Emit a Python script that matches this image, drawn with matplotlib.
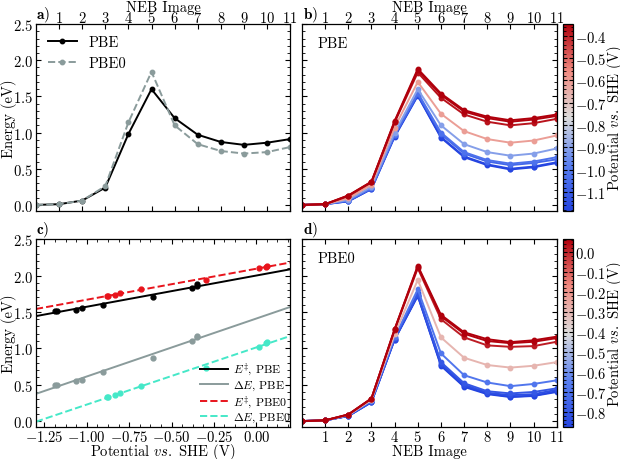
import numpy as np
import matplotlib
matplotlib.use('Agg')
import matplotlib.pyplot as plt
from matplotlib.ticker import MultipleLocator, AutoMinorLocator
from matplotlib.colors import Normalize, LinearSegmentedColormap
from matplotlib.cm import ScalarMappable

images = np.arange(12)

# panel a: reference profiles
pbe_ref = [0.00, 0.01, 0.06, 0.24, 0.98, 1.60, 1.20, 0.97, 0.87, 0.83, 0.86, 0.91]
pbe0_ref = [0.00, 0.01, 0.06, 0.26, 1.14, 1.84, 1.10, 0.84, 0.745, 0.71, 0.73, 0.80]

# panel b: PBE profiles at each potential (V vs SHE)
pbe_potentials = [-1.185, -1.178, -1.064, -1.028, -0.905, -0.608, -0.379, -0.352, -0.348]
pbe_profiles = [
    [0, 0.01, 0.05, 0.22, 0.94, 1.51, 0.93, 0.66, 0.55, 0.49, 0.52, 0.58],
    [0, 0.01, 0.05, 0.22, 0.95, 1.515, 0.94, 0.67, 0.56, 0.50, 0.53, 0.59],
    [0, 0.01, 0.06, 0.23, 0.96, 1.53, 0.98, 0.71, 0.60, 0.55, 0.58, 0.63],
    [0, 0.01, 0.06, 0.23, 0.97, 1.55, 1.00, 0.73, 0.62, 0.57, 0.60, 0.66],
    [0, 0.01, 0.07, 0.25, 1.00, 1.60, 1.10, 0.84, 0.73, 0.68, 0.71, 0.78],
    [0, 0.01, 0.09, 0.28, 1.07, 1.70, 1.26, 1.02, 0.91, 0.86, 0.89, 0.96],
    [0, 0.01, 0.12, 0.31, 1.14, 1.83, 1.48, 1.25, 1.15, 1.10, 1.13, 1.19],
    [0, 0.01, 0.13, 0.32, 1.15, 1.86, 1.52, 1.29, 1.20, 1.15, 1.18, 1.23],
    [0, 0.01, 0.13, 0.32, 1.16, 1.88, 1.54, 1.31, 1.22, 1.17, 1.20, 1.25],
]

# panel d: PBE0 profiles
pbe0_potentials = [-0.878, -0.874, -0.836, -0.804, -0.681, -0.294, 0.017, 0.060, 0.065]
pbe0_profiles = [
    [0, 0.01, 0.07, 0.26, 1.12, 1.72, 0.76, 0.47, 0.37, 0.33, 0.345, 0.40],
    [0, 0.01, 0.07, 0.26, 1.12, 1.725, 0.77, 0.48, 0.38, 0.335, 0.35, 0.41],
    [0, 0.01, 0.07, 0.26, 1.13, 1.735, 0.79, 0.50, 0.39, 0.355, 0.37, 0.43],
    [0, 0.01, 0.07, 0.27, 1.14, 1.755, 0.81, 0.52, 0.41, 0.38, 0.40, 0.45],
    [0, 0.01, 0.08, 0.28, 1.15, 1.81, 0.93, 0.63, 0.53, 0.48, 0.51, 0.56],
    [0, 0.01, 0.08, 0.29, 1.19, 1.94, 1.15, 0.87, 0.77, 0.735, 0.76, 0.81],
    [0, 0.01, 0.09, 0.31, 1.25, 2.10, 1.40, 1.15, 1.04, 1.02, 1.03, 1.09],
    [0, 0.01, 0.09, 0.31, 1.26, 2.12, 1.44, 1.20, 1.10, 1.07, 1.09, 1.14],
    [0, 0.01, 0.09, 0.31, 1.26, 2.135, 1.46, 1.22, 1.125, 1.085, 1.11, 1.16],
]

plt.rcParams['font.family'] = 'cmr10'
plt.rcParams['mathtext.fontset'] = 'cm'
plt.rcParams['axes.formatter.use_mathtext'] = True
plt.rcParams['font.size'] = 10.5
plt.rcParams['axes.linewidth'] = 0.9

cmap = LinearSegmentedColormap.from_list(
    'potential', ['#2444e0', '#5a80f0', '#dcdcdc', '#f08a80', '#b0000c'])
grey = '#8a9b9b'


def style(ax):
    ax.tick_params(which='both', direction='in', top=True, right=True, pad=2)
    ax.tick_params(which='major', length=3.5, width=0.8)
    ax.tick_params(which='minor', length=2, width=0.6)
    ax.yaxis.set_major_locator(MultipleLocator(0.5))
    ax.yaxis.set_minor_locator(AutoMinorLocator(5))
    ax.set_ylim(-0.085, 2.5)


def neb_axis(ax):
    ax.set_xlim(0, 11)
    ax.set_xticks(range(1, 12))


def top_label(ax):
    ax.tick_params(axis='x', labeltop=True, labelbottom=False, pad=-1)
    ax.set_xlabel('NEB Image', va='center')
    ax.xaxis.set_label_coords(0.5, 1.093)


def y_label(ax):
    ax.set_ylabel('Energy (eV)', va='center')
    ax.yaxis.set_label_coords(-0.108, 0.5)


def bottom_label(ax, text):
    ax.tick_params(axis='x', pad=1.5)
    ax.set_xlabel(text, va='center')
    ax.xaxis.set_label_coords(0.5, -0.127)


def colorbar(cax, potentials):
    norm = Normalize(min(potentials), max(potentials))
    cb = fig.colorbar(ScalarMappable(norm=norm, cmap=cmap), cax=cax)
    cb.ax.yaxis.set_major_locator(MultipleLocator(0.1))
    cb.ax.yaxis.set_minor_locator(AutoMinorLocator(5))
    cb.ax.tick_params(which='both', direction='in', left=True, right=True, pad=1.5)
    cb.ax.tick_params(which='major', length=3, width=0.8)
    cb.ax.tick_params(which='minor', length=1.8, width=0.6)
    cb.outline.set_linewidth(0.9)
    cb.set_label(r'Potential $vs.$ SHE (V)', va='center')
    cb.ax.yaxis.set_label_coords(5.25, 0.5)
    return norm


fig = plt.figure(figsize=(6.2, 4.6), dpi=100)
ax_a = fig.add_axes([0.058, 0.539, 0.410, 0.4065])
ax_b = fig.add_axes([0.487, 0.539, 0.411, 0.4065])
cax_b = fig.add_axes([0.908, 0.539, 0.016, 0.4065])
ax_c = fig.add_axes([0.058, 0.069, 0.410, 0.409])
ax_d = fig.add_axes([0.487, 0.069, 0.411, 0.409])
cax_d = fig.add_axes([0.908, 0.069, 0.016, 0.409])

# a)
ax_a.plot(images, pbe_ref, '-o', color='black', lw=1.4, ms=3.2, label='PBE')
ax_a.plot(images, pbe0_ref, '--o', color=grey, lw=1.4, ms=3.2, label='PBE0')
style(ax_a)
neb_axis(ax_a)
top_label(ax_a)
y_label(ax_a)
ax_a.legend(loc='upper left', frameon=False, handlelength=2.0, borderaxespad=0.4)

# b)
norm_b = colorbar(cax_b, pbe_potentials)
for pot, prof in zip(pbe_potentials, pbe_profiles):
    ax_b.plot(images, prof, '-o', color=cmap(norm_b(pot)), lw=1.4, ms=3.2)
style(ax_b)
neb_axis(ax_b)
top_label(ax_b)
ax_b.tick_params(axis='y', labelleft=False)
ax_b.text(0.063, 0.9, 'PBE', transform=ax_b.transAxes, va='center')

# c)
pbe_pot = np.array(pbe_potentials)
pbe0_pot = np.array(pbe0_potentials)
pbe_arr = np.array(pbe_profiles)
pbe0_arr = np.array(pbe0_profiles)
pbe_barrier = pbe_arr.max(axis=1)
pbe_dE = pbe_arr[:, 9]
pbe0_barrier = pbe0_arr.max(axis=1)
pbe0_dE = pbe0_arr[:, 9]

xfit = np.array([-1.3, 0.2])
series = [
    (pbe_pot, pbe_barrier, 'black', '-', r'$E^{\ddagger}$, PBE'),
    (pbe_pot, pbe_dE, grey, '-', r'$\Delta E$, PBE'),
    (pbe0_pot, pbe0_barrier, '#e8141c', '--', r'$E^{\ddagger}$, PBE0'),
    (pbe0_pot, pbe0_dE, '#45e8c8', '--', r'$\Delta E$, PBE0'),
]
for x, y, col, ls, lab in series:
    k, b = np.polyfit(x, y, 1)
    ax_c.plot(xfit, k * xfit + b, ls, color=col, lw=1.4, label=lab)
    ax_c.plot(x, y, 'o', color=col, ms=3.5)
style(ax_c)
ax_c.set_xlim(-1.3, 0.2)
ax_c.xaxis.set_major_locator(MultipleLocator(0.25))
ax_c.xaxis.set_minor_locator(AutoMinorLocator(4))
bottom_label(ax_c, r'Potential $vs.$ SHE (V)')
y_label(ax_c)
ax_c.legend(loc='lower right', bbox_to_anchor=(1.02, -0.01), frameon=False,
            fontsize=8.5, handlelength=2.4, handletextpad=0.4,
            borderaxespad=0.0, labelspacing=0.12)

# d)
norm_d = colorbar(cax_d, pbe0_potentials)
for pot, prof in zip(pbe0_potentials, pbe0_profiles):
    ax_d.plot(images, prof, '-o', color=cmap(norm_d(pot)), lw=1.4, ms=3.2)
style(ax_d)
neb_axis(ax_d)
ax_d.tick_params(axis='y', labelleft=False)
bottom_label(ax_d, 'NEB Image')
ax_d.text(0.063, 0.9, 'PBE0', transform=ax_d.transAxes, va='center')

for lab, x, y in [('a)', 0.058, 0.957), ('b)', 0.488, 0.957),
                  ('c)', 0.058, 0.49), ('d)', 0.488, 0.49)]:
    fig.text(x, y, r'$\mathbf{' + lab + '}$', fontsize=11, va='baseline')

fig.savefig('out.png', dpi=100)
